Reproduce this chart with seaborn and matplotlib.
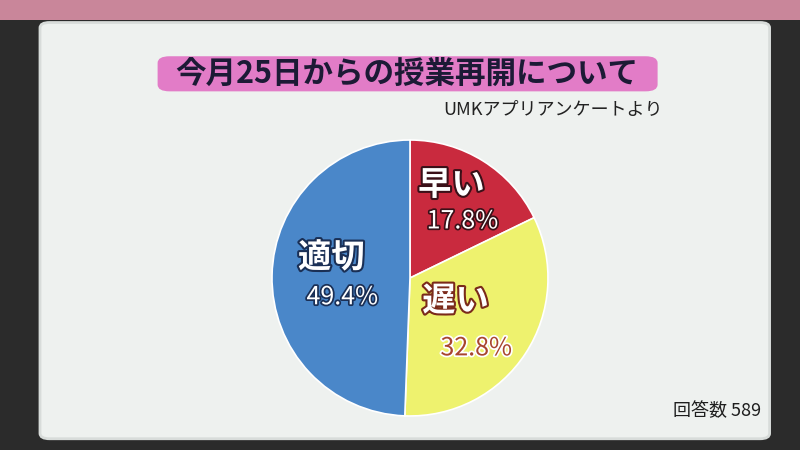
import matplotlib
matplotlib.use('Agg')
import matplotlib.pyplot as plt
import matplotlib.patheffects as pe
from matplotlib.patches import FancyBboxPatch, Rectangle
import seaborn as sns

sns.set_theme(style='white')
plt.rcParams['font.family'] = ['Noto Sans CJK JP', 'DejaVu Sans']

# Survey data
categories = ['早い', '遅い', '適切']
shares = [17.8, 32.8, 49.4]
colors = ['#c92a3e', '#eef26e', '#4a87c9']
title = '今月25日からの授業再開について'
source = 'UMKアプリアンケートより'
n_answers = 589

# label placement (data coords, name / percent) and styles
name_pos = [(0.30, 0.67), (0.33, -0.17), (-0.57, 0.145)]
pct_pos = [(0.38, 0.41), (0.48, -0.51), (-0.49, -0.14)]
name_fg = ['white', 'white', 'white']
name_edge = ['#3a1018', '#7a2a1a', '#1a2f55']
pct_fg = ['white', '#a8452e', 'white']
pct_edge = ['#3a1018', 'white', '#1a2f55']

fig = plt.figure(figsize=(8, 4.5), dpi=100)
fig.patch.set_facecolor('#2b2b2b')

# screen panel (kept behind the axes)
fig.patches.append(Rectangle((0, 0.955), 1, 0.045, transform=fig.transFigure,
                             facecolor='#c9869a', edgecolor='none', zorder=-10))
fig.patches.append(FancyBboxPatch((0.05, 0.025), 0.912, 0.925, transform=fig.transFigure,
                                  boxstyle='round,pad=0,rounding_size=0.012',
                                  facecolor='#eef1ef', edgecolor='#d8dcda', linewidth=2,
                                  zorder=-9))

# title box
fig.patches.append(FancyBboxPatch((0.197, 0.797), 0.625, 0.078, transform=fig.transFigure,
                                  boxstyle='round,pad=0,rounding_size=0.015',
                                  facecolor='#e27cc7', edgecolor='none', zorder=-8))
fig.text(0.509, 0.836, title, ha='center', va='center', fontsize=22,
         fontweight='bold', color='#1c1a35')
fig.text(0.828, 0.755, source, ha='right', va='center', fontsize=13, color='#222222')
fig.text(0.952, 0.087, f'回答数 {n_answers}', ha='right', va='center',
         fontsize=13, color='#1e1e1e')

ax = fig.add_axes([0.34, 0.0756, 0.345, 0.6133])
ax.patch.set_visible(False)
ax.pie(shares, colors=colors, startangle=90, counterclock=False, radius=1,
       wedgeprops=dict(edgecolor='white', linewidth=1.2))
ax.set_xlim(-1, 1)
ax.set_ylim(-1, 1)
ax.set_aspect('equal')
ax.axis('off')

for i, cat in enumerate(categories):
    ax.text(*name_pos[i], cat, ha='center', va='center', fontsize=24,
            fontweight='bold', color=name_fg[i],
            path_effects=[pe.withStroke(linewidth=3, foreground=name_edge[i])])
    ax.text(*pct_pos[i], f'{shares[i]}%', ha='center', va='center', fontsize=18,
            color=pct_fg[i],
            path_effects=[pe.withStroke(linewidth=2.5, foreground=pct_edge[i])])

fig.savefig('out.png', dpi=100, facecolor=fig.get_facecolor())
